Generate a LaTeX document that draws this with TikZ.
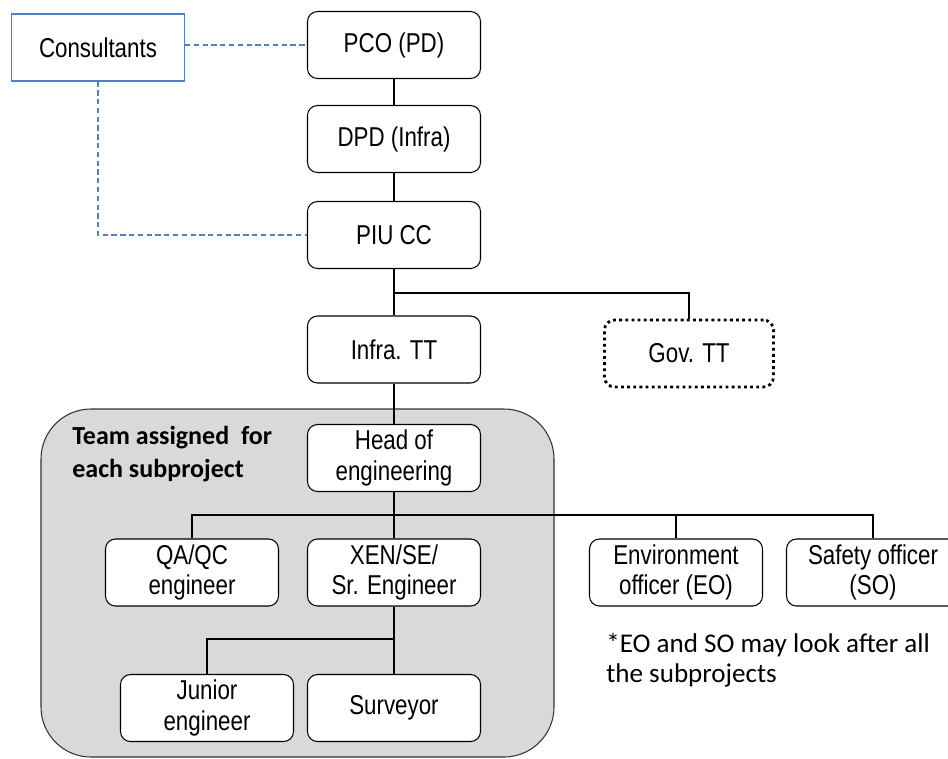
\documentclass[tikz,border=0pt]{standalone}
\usepackage{fontspec}
\setmainfont{Liberation Sans}[FakeStretch=0.82]
\newfontfamily\notefont{Carlito}
\definecolor{consblue}{RGB}{79,129,189}
\definecolor{teamgray}{RGB}{217,217,217}

\begin{document}
\begin{tikzpicture}[x=0.2mm,y=-0.2mm,
	box/.style={draw, fill=white, rounded corners=2mm, line width=0.6pt, minimum width=34.6mm, minimum height=13.4mm, inner sep=0pt, align=center, font=\fontsize{15.5}{17.5}\selectfont},
	link/.style={line width=1.2pt},
	dashlink/.style={draw=consblue, line width=0.6pt, dash pattern=on 3pt off 2pt}]
	\fill[white] (0,0) rectangle (948,758);
	\useasboundingbox (0,0) rectangle (948,758);
	% team box behind the engineering staff
	\filldraw[fill=teamgray, draw=black!80, line width=0.6pt, rounded corners=10mm] (41,409) rectangle (554,757);
	\node[anchor=west, align=left, inner sep=0pt, font=\notefont\bfseries\fontsize{14.8}{18.5}\selectfont] (team) at (72,454) {Team assigned\ \ for\\each subproject};

	\node[box, draw=consblue, rounded corners=0pt] (cons) at (98,47.5) {Consultants};
	\node[box] (pco) at (394,45) {PCO (PD)};
	\node[box] (dpd) at (394,139) {DPD (Infra)};
	\node[box] (piu) at (394,235) {PIU CC};
	\node[box] (infra) at (394,349.5) {Infra. TT};
	\node[box, line width=1.6pt, dash pattern=on 1.6pt off 1.9pt, minimum width=33.8mm] (gov) at (689,353.5) {Gov. TT};
	\node[box] (head) at (394,458) {Head of\\engineering};
	\node[box] (qa) at (192,572.5) {QA/QC\\engineer};
	\node[box] (xen) at (394,572.5) {XEN/SE/\\Sr. Engineer};
	\node[box] (env) at (676,572.5) {Environment\\officer (EO)};
	\node[box] (safe) at (873,572.5) {Safety officer\\(SO)};
	\node[box] (jun) at (207,708) {Junior\\engineer};
	\node[box] (sur) at (394,708) {Surveyor};
	\node[anchor=west, align=left, inner sep=0pt, font=\notefont\fontsize{15.4}{17}\selectfont] (note) at (606,660) {*EO and SO may look after all\\the subprojects};

	% dashed links to the consultants
	\draw[dashlink] (cons.east |- pco.west) -- (pco.west);
	\draw[dashlink] (cons.south) |- (piu.west);

	\coordinate (split) at (394,293);
	\coordinate (bar) at (0,515);
	\coordinate (fork) at (0,639);
	\draw[link] (pco) -- (dpd);
	\draw[link] (dpd) -- (piu);
	\draw[link] (piu) -- (infra);
	\draw[link] (split) -| (gov.north);
	\draw[link] (infra) -- (head);
	\draw[link] (head) -- (xen);
	\draw[link] (qa.north) |- (bar -| safe.north) -- (safe.north);
	\draw[link] (env.north) -- (env.north |- bar);
	\draw[link] (xen) -- (sur);
	\draw[link] (jun.north) |- (fork -| xen.south);
\end{tikzpicture}
\end{document}
